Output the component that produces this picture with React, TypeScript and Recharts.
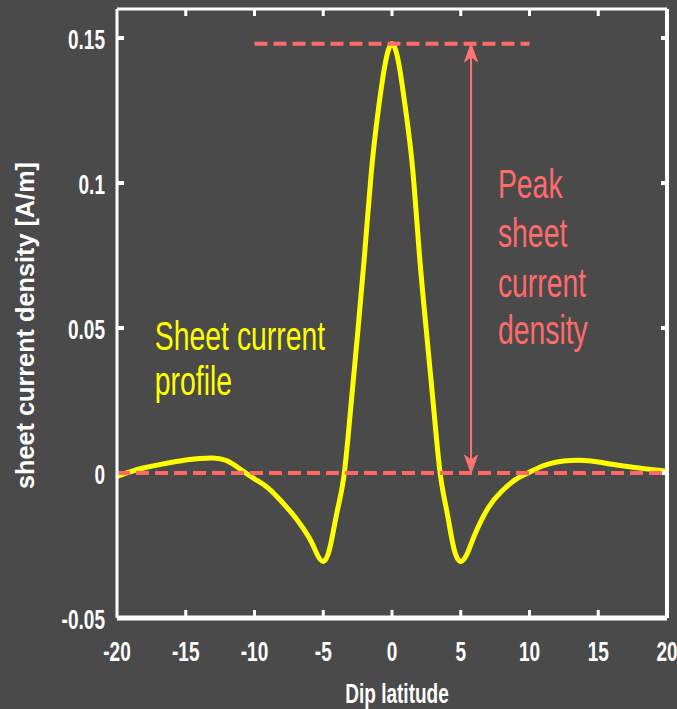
import React from 'react';
import { LineChart, Line, XAxis, YAxis, ReferenceLine, ReferenceDot, Label } from 'recharts';

// Dip latitude (degrees)
const latitudes = [
  -20, -19, -18, -17, -16, -15, -14, -13, -12, -11, -10, -9, -8, -7, -6, -5.5, -5, -4.5, -4, -3.5,
  -3, -2.5, -2, -1.5, -1, -0.5, 0, 0.5, 1, 1.5, 2, 2.5, 3, 3.5, 4, 4.5, 5, 5.5, 6, 7, 8, 9, 10,
  11, 12, 13, 14, 15, 16, 17, 18, 19, 20,
];

// Sheet current density [A/m]
const sheetCurrent = [
  -0.0012, 0.0005, 0.0018, 0.0028, 0.0037, 0.0045, 0.005, 0.0052, 0.0042, 0.0012, -0.002, -0.0052,
  -0.01, -0.0155, -0.0225, -0.0275, -0.0305, -0.0255, -0.0135, -0.0012,
  0.0225, 0.048, 0.075, 0.104, 0.125, 0.141, 0.148, 0.141, 0.125, 0.105, 0.075, 0.049, 0.024,
  0.0, -0.0135, -0.026, -0.0305, -0.0275, -0.0215, -0.012, -0.0062, -0.0022, 0.0003,
  0.0025, 0.0038, 0.0043, 0.0043, 0.0038, 0.003, 0.0023, 0.0017, 0.0011, 0.0006,
];

const xTicks = [-20, -15, -10, -5, 0, 5, 10, 15, 20];
const yTicks = [-0.05, 0, 0.05, 0.1, 0.15];
const xDomain = [-20, 20];
const yDomain = [-0.05, 0.16];

const peakValue = 0.148;
const peakLineStart = -10;
const peakLineEnd = 10;
const arrowLatitude = 5.75;

const profileLabel = ['Sheet current', 'profile'];
const profileAnchor = { x: -17.25, y: 0.0424 };
const peakLabel = ['Peak', 'sheet', 'current', 'density'];
const peakAnchor = { x: 7.7, y: 0.0948 };

const data = latitudes.map((lat, i) => ({ lat, current: sheetCurrent[i] }));

const BG = '#4a4a4a';
const WHITE = '#ffffff';
const YELLOW = '#ffff00';
const RED = '#ff6666';
const FONT = '"Liberation Sans", Arial, sans-serif';
const SQUEEZE = 0.68;

const XTickLabel = (props: any) => {
  const { x, y, payload } = props;
  return (
    <text
      transform={`translate(${x},${y + 43}) scale(${SQUEEZE},1)`}
      textAnchor="middle"
      fill={WHITE}
      fontSize={28}
      fontWeight="bold"
      fontFamily={FONT}
    >
      {String(payload.value)}
    </text>
  );
};

const YTickLabel = (props: any) => {
  const { x, y, payload } = props;
  return (
    <text
      transform={`translate(${x - 12},${y + 11}) scale(${SQUEEZE},1)`}
      textAnchor="end"
      fill={WHITE}
      fontSize={28}
      fontWeight="bold"
      fontFamily={FONT}
    >
      {String(payload.value)}
    </text>
  );
};

const YTitle = (props: any) => {
  const vb = props.viewBox || { x: 0, y: 0, width: 117, height: 609 };
  const cx = vb.x + 34;
  const cy = vb.y + vb.height / 2 + 12;
  return (
    <text
      transform={`translate(${cx},${cy}) rotate(-90)`}
      textAnchor="middle"
      fill={WHITE}
      fontSize={25}
      fontWeight="bold"
      fontFamily={FONT}
      textLength={327}
      lengthAdjust="spacingAndGlyphs"
    >
      sheet current density [A/m]
    </text>
  );
};

const XTitle = (props: any) => {
  const vb = props.viewBox || { x: 117, y: 618, width: 550, height: 91 };
  const cx = vb.x + vb.width / 2 + 5;
  const cy = vb.y + 85;
  return (
    <text
      transform={`translate(${cx},${cy}) scale(${SQUEEZE},1)`}
      textAnchor="middle"
      fill={WHITE}
      fontSize={28}
      fontWeight="bold"
      fontFamily={FONT}
    >
      Dip latitude
    </text>
  );
};

// Inward tick marks on the top and bottom edges
const VerticalTicks = (p: any) => {
  const top = Math.min(p.y1, p.y2);
  const bottom = Math.max(p.y1, p.y2);
  return (
    <g>
      <line x1={p.x1} x2={p.x1} y1={bottom} y2={bottom - 8} stroke={WHITE} strokeWidth={3} />
      <line x1={p.x1} x2={p.x1} y1={top} y2={top + 7} stroke={WHITE} strokeWidth={3} />
    </g>
  );
};

// Inward tick marks on the left and right edges
const HorizontalTicks = (p: any) => {
  const left = Math.min(p.x1, p.x2);
  const right = Math.max(p.x1, p.x2);
  return (
    <g>
      <line x1={left} x2={left + 7} y1={p.y1} y2={p.y1} stroke={WHITE} strokeWidth={4} />
      <line x1={right} x2={right - 6} y1={p.y1} y2={p.y1} stroke={WHITE} strokeWidth={4} />
    </g>
  );
};

// Double-headed arrow spanning zero to the peak
const DoubleArrow = (p: any) => {
  const x = p.x1;
  const top = Math.min(p.y1, p.y2);
  const bottom = Math.max(p.y1, p.y2);
  const len = 18;
  const half = 6.5;
  const col = '#ff7373';
  return (
    <g>
      <line x1={x} x2={x} y1={top + 4} y2={bottom - 4} stroke={col} strokeWidth={2} />
      <polygon
        points={`${x},${top} ${x - half},${top + len} ${x},${top + len - 5} ${x + half},${top + len}`}
        fill={col}
        stroke={col}
        strokeWidth={1}
      />
      <polygon
        points={`${x},${bottom} ${x - half},${bottom - len} ${x},${bottom - len + 5} ${x + half},${bottom - len}`}
        fill={col}
        stroke={col}
        strokeWidth={1}
      />
    </g>
  );
};

const TextBlock = (lines: string[], color: string, spacing: number[]) => (p: any) => (
  <g>
    {lines.map((t, i) => (
      <text
        key={t}
        transform={`translate(${p.cx},${p.cy + spacing[i]}) scale(0.71,1)`}
        fill={color}
        fontSize={40}
        fontFamily={FONT}
      >
        {t}
      </text>
    ))}
  </g>
);

export default function App() {
  return (
    <div style={{ position: 'fixed', left: 0, top: 0, width: 677, height: 709, background: BG }}>
      <LineChart
        width={677}
        height={709}
        data={data}
        margin={{ top: 9, right: 10, left: 0, bottom: 0 }}
      >
        <XAxis
          dataKey="lat"
          type="number"
          domain={xDomain}
          ticks={xTicks}
          allowDataOverflow
          height={91}
          tickSize={0}
          tickMargin={0}
          tickLine={false}
          axisLine={{ stroke: WHITE, strokeWidth: 5 }}
          tick={<XTickLabel />}
          interval={0}
        >
          <Label content={<XTitle />} />
        </XAxis>
        <YAxis
          type="number"
          domain={yDomain}
          ticks={yTicks}
          allowDataOverflow
          width={117}
          tickSize={0}
          tickMargin={0}
          tickLine={false}
          axisLine={{ stroke: WHITE, strokeWidth: 3 }}
          tick={<YTickLabel />}
          interval={0}
        >
          <Label content={<YTitle />} />
        </YAxis>

        <Line
          dataKey="current"
          type="natural"
          stroke={YELLOW}
          strokeWidth={5}
          dot={false}
          isAnimationActive={false}
        />

        {/* box edges */}
        <ReferenceLine y={yDomain[1]} stroke={WHITE} strokeWidth={3} />
        <ReferenceLine x={xDomain[1]} stroke={WHITE} strokeWidth={4} />

        {xTicks.slice(1, -1).map((t) => (
          <ReferenceLine key={`xt${t}`} x={t} shape={VerticalTicks} />
        ))}
        {yTicks.slice(1).map((t) => (
          <ReferenceLine key={`yt${t}`} y={t} shape={HorizontalTicks} />
        ))}

        <ReferenceLine y={0} stroke={RED} strokeWidth={4} strokeDasharray="13 6" />
        <ReferenceLine
          segment={[
            { x: peakLineStart, y: peakValue },
            { x: peakLineEnd, y: peakValue },
          ]}
          stroke="#ff6b6b"
          strokeWidth={4}
          strokeDasharray="13 6"
        />
        <ReferenceLine
          segment={[
            { x: arrowLatitude, y: 0 },
            { x: arrowLatitude, y: peakValue },
          ]}
          shape={DoubleArrow}
        />

        <ReferenceDot
          x={profileAnchor.x}
          y={profileAnchor.y}
          r={0}
          shape={TextBlock(profileLabel, YELLOW, [0, 45])}
        />
        <ReferenceDot
          x={peakAnchor.x}
          y={peakAnchor.y}
          r={0}
          shape={TextBlock(peakLabel, '#ff6b6b', [0, 49, 99, 146])}
        />
      </LineChart>
    </div>
  );
}
